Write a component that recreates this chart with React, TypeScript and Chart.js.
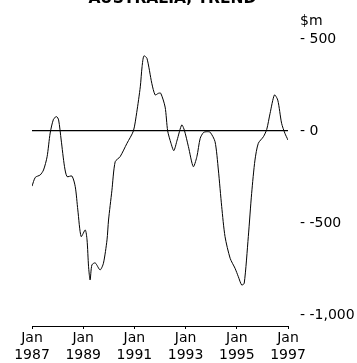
import React, { useEffect, useRef } from "react";
import { Chart, registerables } from "chart.js";

Chart.register(...registerables);

const chartTitle = "AUSTRALIA, TREND";
const unitLabel = "$m";
const monthLabel = "Jan";
const yTicks = [500, 0, -500, -1000];
const xTickYears = [1987, 1989, 1991, 1993, 1995, 1997];

const periods = [
  1987.0, 1987.13, 1987.32, 1987.45, 1987.59, 1987.71, 1987.84, 1987.96,
  1988.04, 1988.14, 1988.27, 1988.37, 1988.56, 1988.69, 1988.79, 1988.92,
  1989.08, 1989.15, 1989.21, 1989.27, 1989.34, 1989.47, 1989.66, 1989.79,
  1989.93, 1989.99, 1990.12, 1990.25, 1990.44, 1990.71, 1990.96, 1991.09,
  1991.23, 1991.3, 1991.37, 1991.49, 1991.68, 1991.81, 1991.94, 1992.03,
  1992.2, 1992.3, 1992.43, 1992.54, 1992.67, 1992.85, 1992.95, 1993.11,
  1993.3, 1993.44, 1993.57, 1993.7, 1993.83, 1993.96, 1994.15, 1994.28,
  1994.41, 1994.54, 1994.74, 1994.93, 1995.06, 1995.19, 1995.29, 1995.45,
  1995.58, 1995.71, 1995.84, 1996.04, 1996.17, 1996.3, 1996.47, 1996.6,
  1996.75, 1996.88, 1997.0,
];

const balance = [
  -300, -252, -239, -212, -140, -11, 64, 78,
  60, -49, -194, -248, -245, -303, -429, -574,
  -538, -592, -738, -810, -728, -717, -755, -719,
  -592, -484, -325, -167, -140, -67, 0, 100,
  240, 350, 408, 395, 259, 196, 205, 205,
  130, 0, -67, -107, -49, 33, 5, -85,
  -194, -140, -40, -8, -4, -7, -58, -212,
  -411, -574, -692, -746, -792, -837, -828, -574,
  -339, -158, -67, -31, 9, 96, 196, 168,
  42, -13, -49,
];

const FONT = '"DejaVu Sans", sans-serif';

const extraText = {
  id: "extraText",
  afterDraw(chart: any) {
    const { ctx, chartArea } = chart;
    ctx.save();
    ctx.fillStyle = "#000";
    ctx.font = `bold 15.5px ${FONT}`;
    ctx.textAlign = "center";
    ctx.textBaseline = "alphabetic";
    ctx.fillText(chartTitle, chartArea.left + 140.5, 3);
    ctx.font = `14px ${FONT}`;
    ctx.textAlign = "left";
    ctx.textBaseline = "middle";
    const yTop = chart.scales.y.getPixelForValue(500);
    ctx.fillText(unitLabel, chartArea.right + 12, yTop - 18);
    ctx.restore();
  },
};

export default function App() {
  const ref = useRef<HTMLCanvasElement>(null);

  useEffect(() => {
    if (!ref.current) return;
    const points = periods.map((p, i) => ({ x: p, y: balance[i] }));
    const chart = new Chart(ref.current, {
      type: "line",
      data: {
        datasets: [
          {
            data: points,
            borderColor: "#000",
            borderWidth: 1,
            pointRadius: 0,
            tension: 0.25,
            fill: false,
          },
        ],
      },
      options: {
        animation: false,
        responsive: false,
        layout: { padding: { left: 32, top: 39, right: 0, bottom: 0 } },
        plugins: {
          legend: { display: false },
          tooltip: { enabled: false },
          title: { display: false },
        },
        scales: {
          x: {
            type: "linear",
            min: 1987,
            max: 1997,
            afterFit: (s: any) => {
              s.height = 37;
            },
            afterBuildTicks: (s: any) => {
              s.ticks = xTickYears.map((v) => ({ value: v }));
            },
            ticks: {
              color: "#000",
              font: { family: FONT, size: 14, lineHeight: 1.2 },
              padding: 1,
              maxRotation: 0,
              autoSkip: false,
              callback: (v: any) => [monthLabel, String(v)],
            },
            grid: {
              drawOnChartArea: false,
              drawTicks: true,
              tickLength: 3,
              color: "#000",
            },
            border: { display: true, color: "#000", width: 1 },
          },
          y: {
            type: "linear",
            position: "right",
            min: -1060,
            max: 500,
            afterFit: (s: any) => {
              s.width = 69;
            },
            afterBuildTicks: (s: any) => {
              s.ticks = yTicks.map((v) => ({ value: v }));
            },
            ticks: {
              color: "#000",
              font: { family: FONT, size: 14 },
              padding: 12,
              callback: (v: any) => "- " + Number(v).toLocaleString("en-US"),
            },
            grid: {
              drawTicks: false,
              color: (c: any) => (c.tick && c.tick.value === 0 ? "#000" : "rgba(0,0,0,0)"),
              lineWidth: 1.3,
            },
            border: { display: false },
          },
        },
      },
      plugins: [extraText],
    });
    return () => chart.destroy();
  }, []);

  return (
    <div style={{ position: "absolute", left: 0, top: 0, width: 357, height: 363, background: "#fff" }}>
      <canvas ref={ref} width={357} height={363} style={{ display: "block" }} />
    </div>
  );
}
